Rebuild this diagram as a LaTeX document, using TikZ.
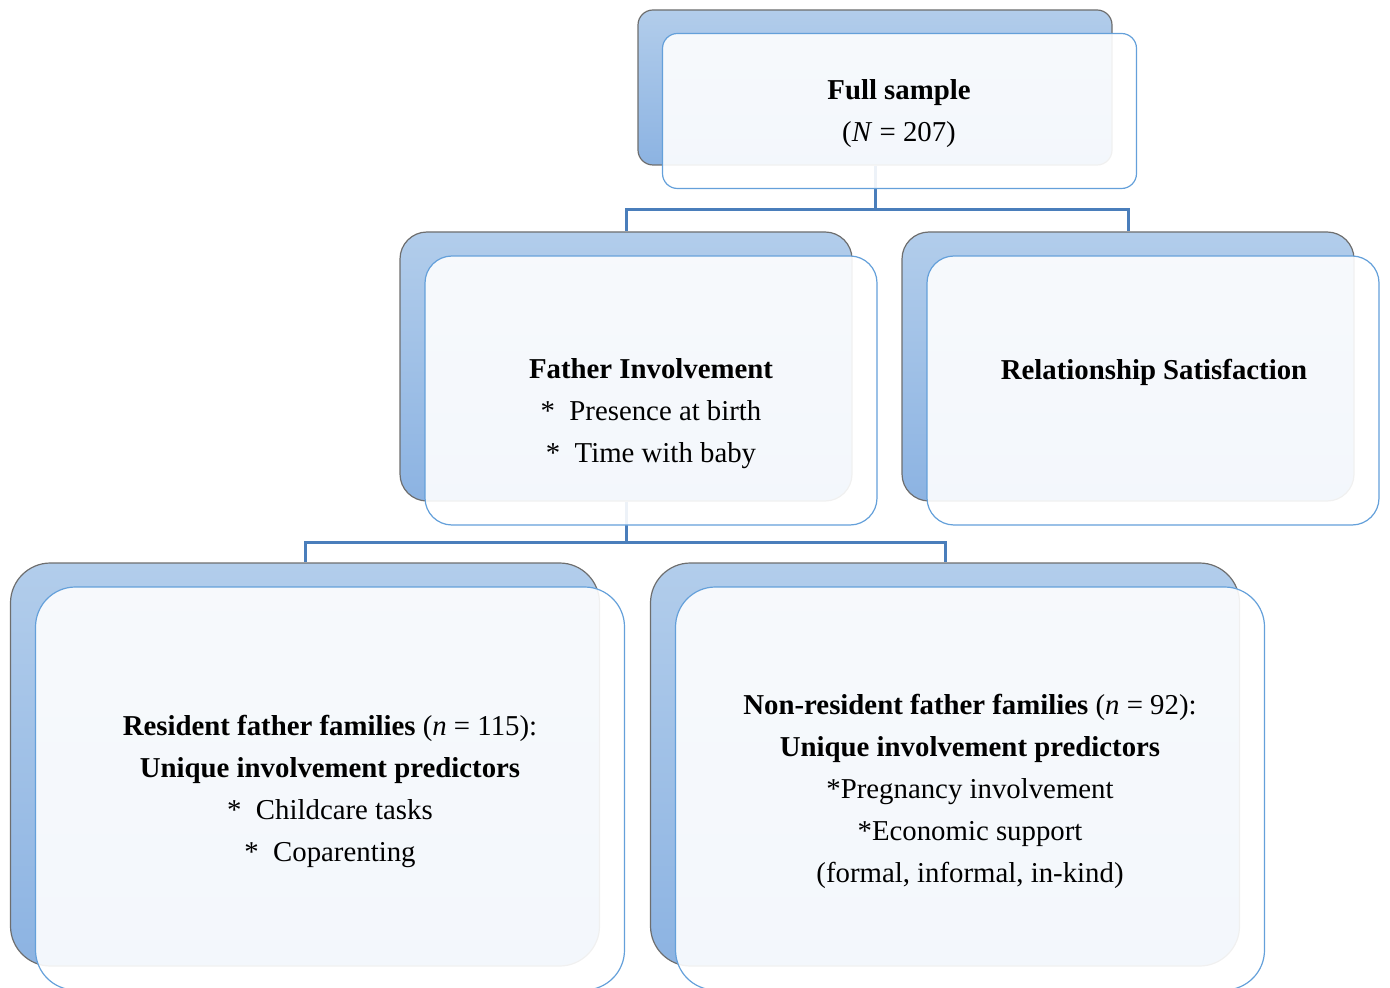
\documentclass[tikz,border=0pt]{standalone}
\usepackage{fontspec}
\setmainfont{Liberation Serif}
\definecolor{backtop}{HTML}{B2CDEB}
\definecolor{backbot}{HTML}{8CB3E2}
\definecolor{backline}{HTML}{6E6E6E}
\definecolor{frontline}{HTML}{64A0DA}
\definecolor{linkblue}{HTML}{4A7EBB}
\tikzset{
  backbox/.style={rectangle, draw=backline, line width=0.6pt, top color=backtop, bottom color=backbot, inner sep=0pt},
  frontbox/.style={rectangle, draw=frontline, line width=0.6pt, fill=white, fill opacity=0.9, inner sep=0pt},
  topcard/.style={minimum width=237pt, minimum height=77.5pt, rounded corners=7.5pt},
  midcard/.style={minimum width=226pt, minimum height=134.5pt, rounded corners=13.5pt},
  lowcard/.style={minimum width=294.5pt, minimum height=201.5pt, rounded corners=20pt},
  link/.style={draw=linkblue, line width=1.5pt},
  cardtext/.style={align=center, font=\fontsize{14.4pt}{21pt}\selectfont, text=black}
}
\begin{document}
\begin{tikzpicture}[x=0.5pt,y=-0.5pt]
\useasboundingbox (0,0) rectangle (1390,988);
\clip (0,0) rectangle (1390,988);

% back cards
\node[backbox, topcard] (fullb) at (875,87.5) {};
\node[backbox, midcard] (invb) at (626,366.5) {};
\node[backbox, midcard] (relb) at (1128,366.5) {};
\node[backbox, lowcard] (resb) at (305,764.5) {};
\node[backbox, lowcard] (nonb) at (945,764.5) {};

% connectors
\draw[link] (fullb.south) -- ++(0,44) -| (invb.north);
\draw[link] (fullb.south) -- ++(0,44) -| (relb.north);
\draw[link] (invb.south) -- ++(0,41) -| (resb.north);
\draw[link] (invb.south) -- ++(0,41) -| (nonb.north);

% front cards
\node[frontbox, topcard] (fullf) at ([shift={(24.5,23.5)}]fullb.center) {};
\node[frontbox, midcard] (invf) at ([shift={(25,24)}]invb.center) {};
\node[frontbox, midcard] (relf) at ([shift={(25,24)}]relb.center) {};
\node[frontbox, lowcard] (resf) at ([shift={(25,24)}]resb.center) {};
\node[frontbox, lowcard] (nonf) at ([shift={(25,24)}]nonb.center) {};

% texts
\node[cardtext] (fulltxt) at (899,114) {\textbf{Full sample}\\(\textit{N} = 207)};
\node[cardtext] (invtxt) at (651,414) {\textbf{Father Involvement}\\{*}\ \ Presence at birth\\{*}\ \ Time with baby};
\node[cardtext] (reltxt) at (1154,372) {\textbf{Relationship Satisfaction}};
\node[cardtext] (restxt) at (330,791) {\textbf{Resident father families} (\textit{n} = 115):\\\textbf{Unique involvement predictors}\\{*}\ \ Childcare tasks\\{*}\ \ Coparenting};
\node[cardtext] (nontxt) at (970,791) {\textbf{Non-resident father families} (\textit{n} = 92):\\\textbf{Unique involvement predictors}\\{*}Pregnancy involvement\\{*}Economic support\\(formal, informal, in-kind)};

\end{tikzpicture}
\end{document}
